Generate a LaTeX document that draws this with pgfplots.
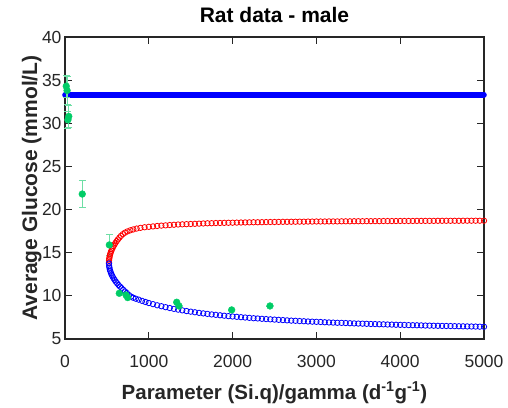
\documentclass[border=0pt]{standalone}
\usepackage{pgfplots}
\usepackage{pgfplotstable}
\pgfplotsset{compat=1.18}
\usepackage{fontspec}
\setmainfont{Liberation Sans}

\definecolor{axgray}{RGB}{38,38,38}
\definecolor{ptgreen}{RGB}{0,204,102}
\definecolor{errgreen}{RGB}{110,222,165}

% upper branch (red)
\pgfplotstableread{
x y
525 13.85
526 14.11
528 14.30
531 14.49
535 14.67
540 14.86
546 15.04
553 15.23
561 15.41
570 15.59
580 15.78
591 15.96
603 16.15
617 16.34
632 16.54
649 16.75
668 16.95
690 17.15
715 17.32
745 17.47
780 17.60
815 17.70
855 17.80
900 17.88
950 17.95
1000 18.00
1050 18.05
1100 18.10
1150 18.14
1200 18.17
1250 18.21
1300 18.24
1350 18.27
1400 18.29
1450 18.31
1500 18.33
1550 18.35
1600 18.37
1650 18.39
1700 18.41
1750 18.42
1800 18.44
1850 18.45
1900 18.46
1950 18.47
2000 18.48
2050 18.49
2100 18.50
2150 18.51
2200 18.52
2250 18.53
2300 18.53
2350 18.54
2400 18.55
2450 18.56
2500 18.56
2550 18.57
2600 18.58
2650 18.58
2700 18.59
2750 18.59
2800 18.60
2850 18.60
2900 18.61
2950 18.61
3000 18.62
3050 18.62
3100 18.62
3150 18.63
3200 18.63
3250 18.63
3300 18.64
3350 18.64
3400 18.64
3450 18.65
3500 18.65
3550 18.65
3600 18.66
3650 18.66
3700 18.66
3750 18.66
3800 18.67
3850 18.67
3900 18.67
3950 18.67
4000 18.68
4050 18.68
4100 18.68
4150 18.68
4200 18.69
4250 18.69
4300 18.69
4350 18.69
4400 18.69
4450 18.70
4500 18.70
4550 18.70
4600 18.70
4650 18.70
4700 18.70
4750 18.71
4800 18.71
4850 18.71
4900 18.71
4950 18.71
5000 18.71
}\upperbranch

% lower branch (blue)
\pgfplotstableread{
x y
525 13.75
527 13.46
530 13.27
535 13.05
541 12.85
549 12.63
558 12.43
568 12.24
580 12.03
593 11.84
607 11.64
622 11.46
638 11.27
656 11.08
675 10.89
695 10.70
716 10.51
738 10.33
762 10.10
788 9.92
815 9.78
845 9.67
880 9.56
920 9.42
960 9.29
1000 9.17
1050 9.04
1100 8.91
1150 8.80
1200 8.69
1250 8.59
1300 8.49
1350 8.40
1400 8.32
1450 8.24
1500 8.17
1550 8.10
1600 8.03
1650 7.97
1700 7.91
1750 7.85
1800 7.80
1850 7.75
1900 7.70
1950 7.65
2000 7.61
2050 7.57
2100 7.53
2150 7.49
2200 7.45
2250 7.41
2300 7.38
2350 7.34
2400 7.31
2450 7.28
2500 7.25
2550 7.22
2600 7.19
2650 7.16
2700 7.13
2750 7.11
2800 7.08
2850 7.06
2900 7.03
2950 7.01
3000 6.99
3050 6.97
3100 6.94
3150 6.92
3200 6.90
3250 6.88
3300 6.87
3350 6.85
3400 6.83
3450 6.81
3500 6.79
3550 6.78
3600 6.76
3650 6.74
3700 6.73
3750 6.71
3800 6.70
3850 6.68
3900 6.67
3950 6.65
4000 6.64
4050 6.63
4100 6.61
4150 6.60
4200 6.59
4250 6.58
4300 6.56
4350 6.55
4400 6.54
4450 6.53
4500 6.52
4550 6.51
4600 6.50
4650 6.49
4700 6.48
4750 6.47
4800 6.46
4850 6.45
4900 6.44
4950 6.43
5000 6.42
}\lowerbranch

% measured rats: x, mean glucose, error
\pgfplotstableread{
x y e
15 34.3 1.3
25 33.8 1.6
35 30.4 1.0
45 30.8 1.3
206 21.8 1.55
529 15.9 1.2
648 10.3 0
728 10.1 0
748 9.8 0
1333 9.26 0
1360 8.83 0
1989 8.37 0
2446 8.83 0
}\ratdata

\begin{document}
\begin{tikzpicture}
\path (-65pt,-68pt) rectangle (443pt,339pt);
\begin{axis}[
  scale only axis,
  width=419pt, height=302pt,
  xmin=0, xmax=5000, ymin=5, ymax=40,
  xtick={0,1000,...,5000}, ytick={5,10,...,40},
  scaled x ticks=false,
  /pgf/number format/1000 sep=,
  /pgf/number format/assume math mode=true,
  tick align=inside,
  major tick length=7pt,
  axis line style={line width=1.2pt, axgray},
  tick style={line width=1.2pt, axgray},
  ticklabel style={font=\fontsize{17.5}{20}\selectfont, text=axgray},
  xticklabel style={anchor=base, yshift=-28pt},
  clip=false,
  title={Rat data - male},
  title style={font=\bfseries\fontsize{21}{24}\selectfont, at={(axis description cs:0.5,1.0265)}, anchor=base},
  xlabel={Parameter (Si.q)/gamma (d\textsuperscript{-1}g\textsuperscript{-1})},
  xlabel style={font=\bfseries\fontsize{20.5}{24}\selectfont, text=axgray, at={(axis description cs:0.5,-0.1987)}, anchor=base},
  ylabel={Average Glucose (mmol/L)},
  ylabel style={font=\bfseries\fontsize{21}{24}\selectfont, text=axgray, at={(axis description cs:-0.0668,0.5)}, anchor=base},
]
% trivial steady state
\addplot[blue, line width=5.6pt, line cap=round] coordinates {(0,33.3) (5000,33.3)};
\addplot[only marks, red, mark=o, mark size=2.7pt, mark options={line width=0.8pt}] table[x=x,y=y] {\upperbranch};
\addplot[only marks, blue, mark=o, mark size=2.7pt, mark options={line width=0.8pt}] table[x=x,y=y] {\lowerbranch};
\addplot[only marks, mark=*, mark size=3.4pt, color=ptgreen,
  error bars/.cd, y dir=both, y explicit,
  error bar style={errgreen, line width=0.8pt},
  error mark options={rotate=90, mark size=3.5pt, errgreen, line width=0.8pt}]
  table[x=x, y=y, y error=e] {\ratdata};
\end{axis}
\end{tikzpicture}
\end{document}
